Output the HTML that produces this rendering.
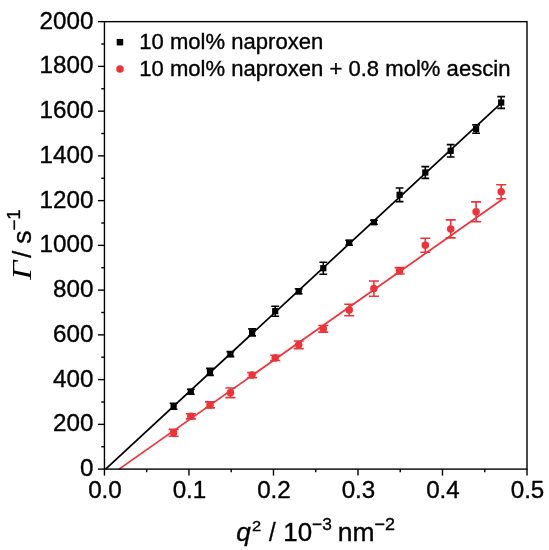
<!DOCTYPE html>
<html><head><meta charset="utf-8"><title>chart</title>
<style>html,body{margin:0;padding:0;background:#fff}svg{display:block}text{filter:grayscale(1)}text{font-family:"Liberation Sans", Arial, Helvetica, sans-serif;fill:#000;stroke:#000;stroke-width:0.35px}</style>
</head><body>
<svg width="549" height="550" viewBox="0 0 549 550">
<rect x="0" y="0" width="549" height="550" fill="#fff"/>
<line x1="105.6" y1="469.1" x2="502.0" y2="102.4" stroke="#000" stroke-width="1.75"/>
<line x1="119.1" y1="469.1" x2="502.5" y2="199.2" stroke="#ef3238" stroke-width="1.75"/>
<rect x="104.45" y="21.65" width="422.55" height="447.45000000000005" fill="none" stroke="#000" stroke-width="1.4"/>
<line x1="97.95" y1="469.10" x2="104.45" y2="469.10" stroke="#000" stroke-width="1.4"/>
<text transform="translate(93.4,476.00) scale(1.03,1)" font-size="23.5" text-anchor="end">0</text>
<line x1="101.25" y1="446.73" x2="104.45" y2="446.73" stroke="#000" stroke-width="1.4"/>
<line x1="97.95" y1="424.36" x2="104.45" y2="424.36" stroke="#000" stroke-width="1.4"/>
<text transform="translate(93.4,431.25) scale(1.03,1)" font-size="23.5" text-anchor="end">200</text>
<line x1="101.25" y1="401.98" x2="104.45" y2="401.98" stroke="#000" stroke-width="1.4"/>
<line x1="97.95" y1="379.61" x2="104.45" y2="379.61" stroke="#000" stroke-width="1.4"/>
<text transform="translate(93.4,386.51) scale(1.03,1)" font-size="23.5" text-anchor="end">400</text>
<line x1="101.25" y1="357.24" x2="104.45" y2="357.24" stroke="#000" stroke-width="1.4"/>
<line x1="97.95" y1="334.87" x2="104.45" y2="334.87" stroke="#000" stroke-width="1.4"/>
<text transform="translate(93.4,341.76) scale(1.03,1)" font-size="23.5" text-anchor="end">600</text>
<line x1="101.25" y1="312.49" x2="104.45" y2="312.49" stroke="#000" stroke-width="1.4"/>
<line x1="97.95" y1="290.12" x2="104.45" y2="290.12" stroke="#000" stroke-width="1.4"/>
<text transform="translate(93.4,297.02) scale(1.03,1)" font-size="23.5" text-anchor="end">800</text>
<line x1="101.25" y1="267.75" x2="104.45" y2="267.75" stroke="#000" stroke-width="1.4"/>
<line x1="97.95" y1="245.38" x2="104.45" y2="245.38" stroke="#000" stroke-width="1.4"/>
<text transform="translate(93.4,252.28) scale(1.03,1)" font-size="23.5" text-anchor="end">1000</text>
<line x1="101.25" y1="223.00" x2="104.45" y2="223.00" stroke="#000" stroke-width="1.4"/>
<line x1="97.95" y1="200.63" x2="104.45" y2="200.63" stroke="#000" stroke-width="1.4"/>
<text transform="translate(93.4,207.53) scale(1.03,1)" font-size="23.5" text-anchor="end">1200</text>
<line x1="101.25" y1="178.26" x2="104.45" y2="178.26" stroke="#000" stroke-width="1.4"/>
<line x1="97.95" y1="155.88" x2="104.45" y2="155.88" stroke="#000" stroke-width="1.4"/>
<text transform="translate(93.4,162.78) scale(1.03,1)" font-size="23.5" text-anchor="end">1400</text>
<line x1="101.25" y1="133.51" x2="104.45" y2="133.51" stroke="#000" stroke-width="1.4"/>
<line x1="97.95" y1="111.14" x2="104.45" y2="111.14" stroke="#000" stroke-width="1.4"/>
<text transform="translate(93.4,118.04) scale(1.03,1)" font-size="23.5" text-anchor="end">1600</text>
<line x1="101.25" y1="88.77" x2="104.45" y2="88.77" stroke="#000" stroke-width="1.4"/>
<line x1="97.95" y1="66.39" x2="104.45" y2="66.39" stroke="#000" stroke-width="1.4"/>
<text transform="translate(93.4,73.29) scale(1.03,1)" font-size="23.5" text-anchor="end">1800</text>
<line x1="101.25" y1="44.02" x2="104.45" y2="44.02" stroke="#000" stroke-width="1.4"/>
<line x1="97.95" y1="21.65" x2="104.45" y2="21.65" stroke="#000" stroke-width="1.4"/>
<text transform="translate(93.4,28.55) scale(1.03,1)" font-size="23.5" text-anchor="end">2000</text>
<line x1="104.45" y1="469.1" x2="104.45" y2="475.60" stroke="#000" stroke-width="1.4"/>
<text transform="translate(104.95,498.2) scale(1.03,1)" font-size="23.5" text-anchor="middle">0.0</text>
<line x1="146.71" y1="469.1" x2="146.71" y2="472.30" stroke="#000" stroke-width="1.4"/>
<line x1="188.96" y1="469.1" x2="188.96" y2="475.60" stroke="#000" stroke-width="1.4"/>
<text transform="translate(189.46,498.2) scale(1.03,1)" font-size="23.5" text-anchor="middle">0.1</text>
<line x1="231.22" y1="469.1" x2="231.22" y2="472.30" stroke="#000" stroke-width="1.4"/>
<line x1="273.47" y1="469.1" x2="273.47" y2="475.60" stroke="#000" stroke-width="1.4"/>
<text transform="translate(273.97,498.2) scale(1.03,1)" font-size="23.5" text-anchor="middle">0.2</text>
<line x1="315.73" y1="469.1" x2="315.73" y2="472.30" stroke="#000" stroke-width="1.4"/>
<line x1="357.98" y1="469.1" x2="357.98" y2="475.60" stroke="#000" stroke-width="1.4"/>
<text transform="translate(358.48,498.2) scale(1.03,1)" font-size="23.5" text-anchor="middle">0.3</text>
<line x1="400.24" y1="469.1" x2="400.24" y2="472.30" stroke="#000" stroke-width="1.4"/>
<line x1="442.49" y1="469.1" x2="442.49" y2="475.60" stroke="#000" stroke-width="1.4"/>
<text transform="translate(442.99,498.2) scale(1.03,1)" font-size="23.5" text-anchor="middle">0.4</text>
<line x1="484.75" y1="469.1" x2="484.75" y2="472.30" stroke="#000" stroke-width="1.4"/>
<line x1="527.00" y1="469.1" x2="527.00" y2="475.60" stroke="#000" stroke-width="1.4"/>
<text transform="translate(527.50,498.2) scale(1.03,1)" font-size="23.5" text-anchor="middle">0.5</text>
<path d="M173.6 429.4V436.2M168.6 429.4H178.6M168.6 436.2H178.6" stroke="#ef3238" stroke-width="1.6" fill="none"/>
<circle cx="173.6" cy="432.8" r="3.75" fill="#ef3238"/>
<path d="M190.8 413.7V418.9M185.8 413.7H195.8M185.8 418.9H195.8" stroke="#ef3238" stroke-width="1.6" fill="none"/>
<circle cx="190.8" cy="416.3" r="3.75" fill="#ef3238"/>
<path d="M210.0 401.9V407.9M205.0 401.9H215.0M205.0 407.9H215.0" stroke="#ef3238" stroke-width="1.6" fill="none"/>
<circle cx="210.0" cy="404.9" r="3.75" fill="#ef3238"/>
<path d="M230.4 388.0V397.6M225.4 388.0H235.4M225.4 397.6H235.4" stroke="#ef3238" stroke-width="1.6" fill="none"/>
<circle cx="230.4" cy="392.8" r="3.75" fill="#ef3238"/>
<path d="M252.1 372.5V377.7M247.1 372.5H257.1M247.1 377.7H257.1" stroke="#ef3238" stroke-width="1.6" fill="none"/>
<circle cx="252.1" cy="375.1" r="3.75" fill="#ef3238"/>
<path d="M275.2 355.3V360.5M270.2 355.3H280.2M270.2 360.5H280.2" stroke="#ef3238" stroke-width="1.6" fill="none"/>
<circle cx="275.2" cy="357.9" r="3.75" fill="#ef3238"/>
<path d="M298.7 341.0V348.6M293.7 341.0H303.7M293.7 348.6H303.7" stroke="#ef3238" stroke-width="1.6" fill="none"/>
<circle cx="298.7" cy="344.8" r="3.75" fill="#ef3238"/>
<path d="M323.3 325.5V332.1M318.3 325.5H328.3M318.3 332.1H328.3" stroke="#ef3238" stroke-width="1.6" fill="none"/>
<circle cx="323.3" cy="328.8" r="3.75" fill="#ef3238"/>
<path d="M349.2 304.2V315.8M344.2 304.2H354.2M344.2 315.8H354.2" stroke="#ef3238" stroke-width="1.6" fill="none"/>
<circle cx="349.2" cy="310.0" r="3.75" fill="#ef3238"/>
<path d="M373.9 281.0V296.2M368.9 281.0H378.9M368.9 296.2H378.9" stroke="#ef3238" stroke-width="1.6" fill="none"/>
<circle cx="373.9" cy="288.6" r="3.75" fill="#ef3238"/>
<path d="M399.6 267.6V274.0M394.6 267.6H404.6M394.6 274.0H404.6" stroke="#ef3238" stroke-width="1.6" fill="none"/>
<circle cx="399.6" cy="270.8" r="3.75" fill="#ef3238"/>
<path d="M425.3 238.3V252.3M420.3 238.3H430.3M420.3 252.3H430.3" stroke="#ef3238" stroke-width="1.6" fill="none"/>
<circle cx="425.3" cy="245.3" r="3.75" fill="#ef3238"/>
<path d="M450.7 219.9V237.9M445.7 219.9H455.7M445.7 237.9H455.7" stroke="#ef3238" stroke-width="1.6" fill="none"/>
<circle cx="450.7" cy="228.9" r="3.75" fill="#ef3238"/>
<path d="M476.1 201.9V221.7M471.1 201.9H481.1M471.1 221.7H481.1" stroke="#ef3238" stroke-width="1.6" fill="none"/>
<circle cx="476.1" cy="211.8" r="3.75" fill="#ef3238"/>
<path d="M501.2 184.7V198.7M496.2 184.7H506.2M496.2 198.7H506.2" stroke="#ef3238" stroke-width="1.6" fill="none"/>
<circle cx="501.2" cy="191.7" r="3.75" fill="#ef3238"/>
<path d="M173.6 403.2V409.2M169.7 403.2H177.5M169.7 409.2H177.5" stroke="#000" stroke-width="1.6" fill="none"/>
<rect x="170.50" y="403.10" width="6.2" height="6.2" fill="#000"/>
<path d="M190.8 389.2V394.2M186.9 389.2H194.7M186.9 394.2H194.7" stroke="#000" stroke-width="1.6" fill="none"/>
<rect x="187.70" y="388.60" width="6.2" height="6.2" fill="#000"/>
<path d="M210.0 368.4V375.4M206.1 368.4H213.9M206.1 375.4H213.9" stroke="#000" stroke-width="1.6" fill="none"/>
<rect x="206.90" y="368.80" width="6.2" height="6.2" fill="#000"/>
<path d="M230.4 351.6V356.6M226.5 351.6H234.3M226.5 356.6H234.3" stroke="#000" stroke-width="1.6" fill="none"/>
<rect x="227.30" y="351.00" width="6.2" height="6.2" fill="#000"/>
<path d="M252.1 328.9V335.9M248.2 328.9H256.0M248.2 335.9H256.0" stroke="#000" stroke-width="1.6" fill="none"/>
<rect x="249.00" y="329.30" width="6.2" height="6.2" fill="#000"/>
<path d="M275.2 306.2V316.2M271.3 306.2H279.1M271.3 316.2H279.1" stroke="#000" stroke-width="1.6" fill="none"/>
<rect x="272.10" y="308.10" width="6.2" height="6.2" fill="#000"/>
<path d="M298.7 288.8V293.8M294.8 288.8H302.6M294.8 293.8H302.6" stroke="#000" stroke-width="1.6" fill="none"/>
<rect x="295.60" y="288.20" width="6.2" height="6.2" fill="#000"/>
<path d="M323.3 262.2V274.2M319.4 262.2H327.2M319.4 274.2H327.2" stroke="#000" stroke-width="1.6" fill="none"/>
<rect x="320.20" y="265.10" width="6.2" height="6.2" fill="#000"/>
<path d="M349.2 240.3V245.3M345.3 240.3H353.1M345.3 245.3H353.1" stroke="#000" stroke-width="1.6" fill="none"/>
<rect x="346.10" y="239.70" width="6.2" height="6.2" fill="#000"/>
<path d="M373.9 220.3V224.3M370.0 220.3H377.8M370.0 224.3H377.8" stroke="#000" stroke-width="1.6" fill="none"/>
<rect x="370.80" y="219.20" width="6.2" height="6.2" fill="#000"/>
<path d="M399.6 188.0V201.6M395.7 188.0H403.5M395.7 201.6H403.5" stroke="#000" stroke-width="1.6" fill="none"/>
<rect x="396.50" y="191.70" width="6.2" height="6.2" fill="#000"/>
<path d="M425.3 166.6V178.4M421.4 166.6H429.2M421.4 178.4H429.2" stroke="#000" stroke-width="1.6" fill="none"/>
<rect x="422.20" y="169.40" width="6.2" height="6.2" fill="#000"/>
<path d="M450.7 144.6V157.0M446.8 144.6H454.6M446.8 157.0H454.6" stroke="#000" stroke-width="1.6" fill="none"/>
<rect x="447.60" y="147.70" width="6.2" height="6.2" fill="#000"/>
<path d="M476.1 124.9V133.3M472.2 124.9H480.0M472.2 133.3H480.0" stroke="#000" stroke-width="1.6" fill="none"/>
<rect x="473.00" y="126.00" width="6.2" height="6.2" fill="#000"/>
<path d="M501.2 96.6V108.4M497.3 96.6H505.1M497.3 108.4H505.1" stroke="#000" stroke-width="1.6" fill="none"/>
<rect x="498.10" y="99.40" width="6.2" height="6.2" fill="#000"/>
<rect x="116.7" y="38.95" width="6.5" height="6.5" fill="#000"/>
<circle cx="120.0" cy="69.0" r="3.75" fill="#ef3238"/>
<text transform="translate(139.2,48.5) scale(1.037,1)" font-size="21.3">10 mol% naproxen</text>
<text transform="translate(139.2,75.8) scale(1.037,1)" font-size="21.3">10 mol% naproxen + 0.8 mol% aescin</text>
<text transform="translate(236.28,541.4) scale(1.028,1)" font-size="25.5" font-style="italic">q</text>
<text transform="translate(251.98,530.9) scale(1.099,1)" font-size="15.0">2</text>
<text transform="translate(269.10,541.4) scale(0.941,1)" font-size="25.5">/</text>
<text transform="translate(283.3,541.4) scale(1.02,1)" font-size="25.5">10</text>
<text transform="translate(312.03,530.1) scale(1.007,1)" font-size="17.2">−3</text>
<text transform="translate(337.78,541.4) scale(1.037,1)" font-size="25.5">nm</text>
<text transform="translate(374.50,530.1) scale(1.045,1)" font-size="17.2">−2</text>
<text transform="translate(31.1,279.66) rotate(-90) scale(1.245,1)" font-size="27.0" font-style="italic" style="font-family:'Liberation Serif', 'Times New Roman', serif;stroke-width:0px">Γ</text>
<text transform="translate(31.2,257.80) rotate(-90) scale(0.984,1)" font-size="25.5">/</text>
<text transform="translate(31.0,243.79) rotate(-90) scale(1.037,1)" font-size="25.5">s</text>
<text transform="translate(19.6,230.6) rotate(-90) scale(1.06,1)" font-size="17.5">−1</text>
</svg></body></html>
